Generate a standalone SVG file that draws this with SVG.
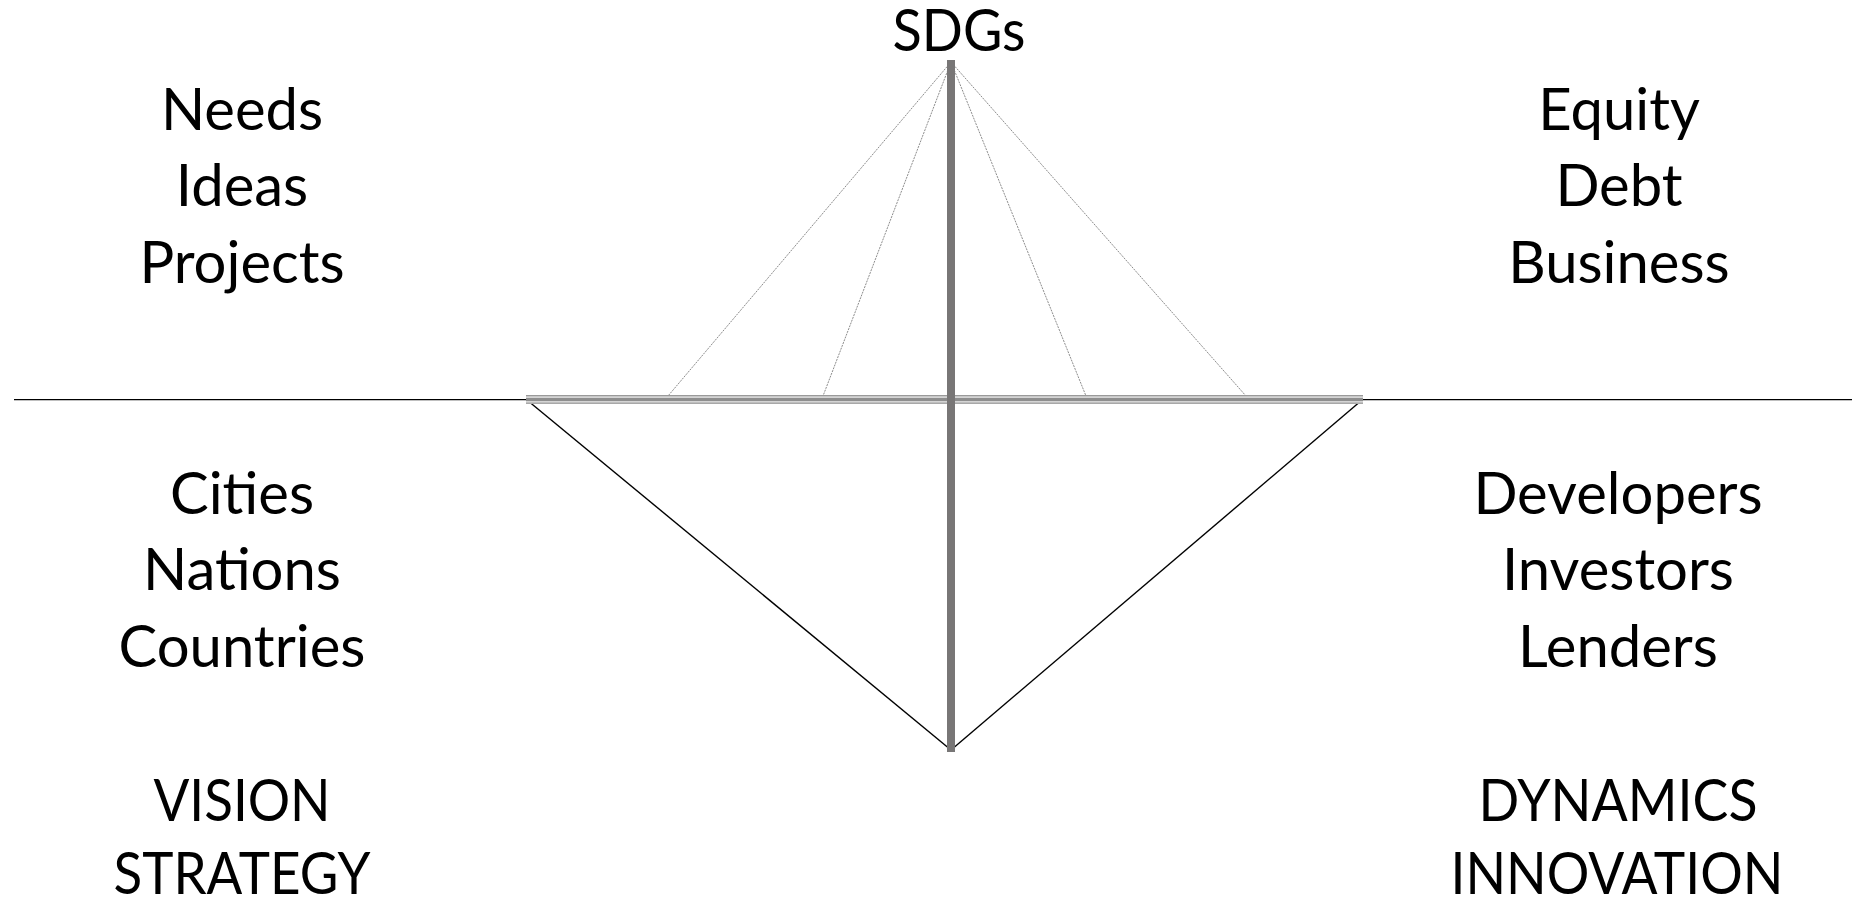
<svg xmlns="http://www.w3.org/2000/svg" width="1852" height="901" viewBox="0 0 1852 901">
<style>
.t{font-family:Lato,"Noto Sans",sans-serif;font-size:58px;fill:#000;text-anchor:middle}
.cable{stroke:#8c8c8c;stroke-width:1;stroke-dasharray:2 1;fill:none}
.hull{stroke:#000;stroke-width:1.4;fill:none}
</style>
<rect width="1852" height="901" fill="#fff"/>
<g id="water">
<line x1="14" y1="399.7" x2="1852" y2="399.7" stroke="#000" stroke-width="1.3"/>
</g>
<g id="connectors">
<line class="cable" x1="951" y1="62" x2="668" y2="396"/>
<line class="cable" x1="951" y1="62" x2="823" y2="396"/>
<line class="cable" x1="951" y1="62" x2="1086" y2="396"/>
<line class="cable" x1="951" y1="62" x2="1246" y2="396"/>
<line class="hull" x1="527" y1="400" x2="951" y2="750"/>
<line class="hull" x1="1362" y1="400" x2="951" y2="750"/>
</g>
<g id="deck">
<rect x="526" y="395" width="837" height="9" fill="#d4d4d4"/>
<rect x="526" y="395" width="837" height="1.2" fill="#9a9a9a"/>
<rect x="526" y="398" width="837" height="3" fill="#8e8e8e"/>
<rect x="526" y="402.5" width="837" height="1.5" fill="#a8a8a8"/>
</g>
<g id="mast">
<rect x="947" y="60" width="8" height="692" fill="#787676"/>
</g>
<g id="sdgs"><text class="t" x="959" y="51" textLength="133" lengthAdjust="spacingAndGlyphs">SDGs</text></g>
<g id="top-left">
<text class="t" x="242" y="130">Needs</text>
<text class="t" x="242" y="206">Ideas</text>
<text class="t" x="242" y="283">Projects</text>
</g>
<g id="top-right">
<text class="t" x="1619" y="130">Equity</text>
<text class="t" x="1619" y="206">Debt</text>
<text class="t" x="1619" y="283">Business</text>
</g>
<g id="mid-left">
<text class="t" x="242" y="514">Cities</text>
<text class="t" x="242" y="590">Nations</text>
<text class="t" x="242" y="667">Countries</text>
</g>
<g id="mid-right">
<text class="t" x="1618" y="514">Developers</text>
<text class="t" x="1618" y="590">Investors</text>
<text class="t" x="1618" y="667">Lenders</text>
</g>
<g id="bottom-left">
<text class="t" x="242" y="821" textLength="177" lengthAdjust="spacingAndGlyphs">VISION</text>
<text class="t" x="242" y="894" textLength="257" lengthAdjust="spacingAndGlyphs">STRATEGY</text>
</g>
<g id="bottom-right">
<text class="t" x="1618" y="821" textLength="279" lengthAdjust="spacingAndGlyphs">DYNAMICS</text>
<text class="t" x="1617" y="894" textLength="333" lengthAdjust="spacingAndGlyphs">INNOVATION</text>
</g>
</svg>
